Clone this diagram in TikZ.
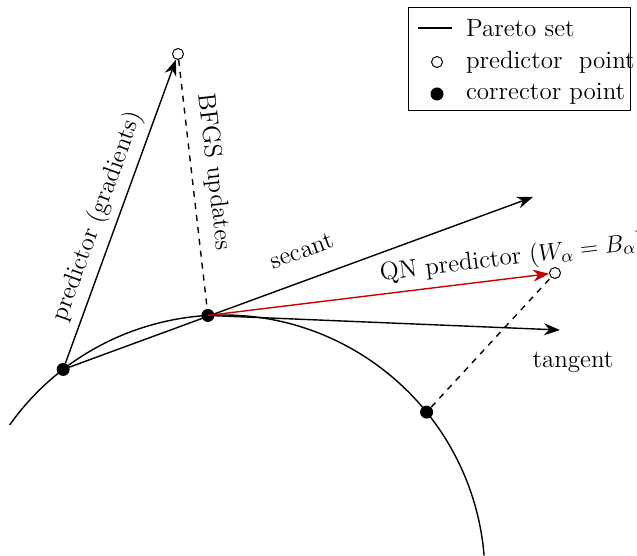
\documentclass[tikz,border=0pt]{standalone}
\usepackage{amsmath}
\usetikzlibrary{arrows.meta, positioning, calc}
\definecolor{qnred}{RGB}{200, 0, 0}

\begin{document}
\begin{tikzpicture}[x=0.5pt, y=0.5pt, font=\fontsize{12.5}{14}\selectfont,
        corr/.style={circle, fill=black, inner sep=0pt, minimum size=6.5pt},
        pred/.style={circle, draw=black, fill=white, inner sep=0pt, minimum size=5.5pt, line width=0.5pt},
        vec/.style={line width=0.7pt, -{Stealth[length=8pt, width=6pt]}}]
    \useasboundingbox (0,0) rectangle (637,556);

    % Pareto set (Kreisbogen)
    \coordinate (O) at (223,-21);
    \draw[line width=0.7pt] (O) ++(144.5:262) arc[start angle=144.5, end angle=4.7, radius=262];

    % corrector / predictor points
    \node[corr] (c1) at ($(O)+(127.6:262)$) {};
    \node[corr] (c2) at ($(O)+(93.3:262)$) {};
    \node[corr] (c3) at ($(O)+(39.0:262)$) {};
    \node[pred] (p1) at (178,502) {};
    \node[pred] (p2) at (555,283) {};
    \coordinate (sec) at (533,359);
    \coordinate (tan) at (560,226);

    % Frecce
    \draw[vec] (c1) -- node[sloped, above, pos=0.46] (lgrad) {predictor (gradients)} (p1);
    \draw[line width=0.7pt, dashed] (p1) -- node[sloped, above, pos=0.46, yshift=2pt] (lbfgs) {BFGS updates} (c2);
    \draw[vec] (c1.center) -- node[sloped, above, pos=0.53, yshift=7pt] (lsec) {secant} (sec);
    \draw[vec] (c2.center) -- (tan);
    \draw[vec, qnred] (c2.center) -- node[sloped, above, pos=0.9, black] (lqn) {QN predictor ($W_\alpha = B_\alpha$)} (p2);
    \draw[line width=0.7pt, dashed] (c3) -- (p2);
    \node (ltan) at (573,194) {tangent};

    % legend
    \draw[line width=0.5pt] (408,445) rectangle (630,548);
    \coordinate (la) at (418,528);
    \coordinate (lb) at (452,528);
    \draw[line width=0.7pt] (la) -- (lb);
    \node[pred] (lp) at (437,494) {};
    \node[corr] (lc) at (437,462) {};
    \node[anchor=west] (tpareto) at (459,528) {Pareto set};
    \node[anchor=west] (tpred) at (459,494) {predictor\ \ point};
    \node[anchor=west] (tcorr) at (459,462) {corrector point};
\end{tikzpicture}
\end{document}
